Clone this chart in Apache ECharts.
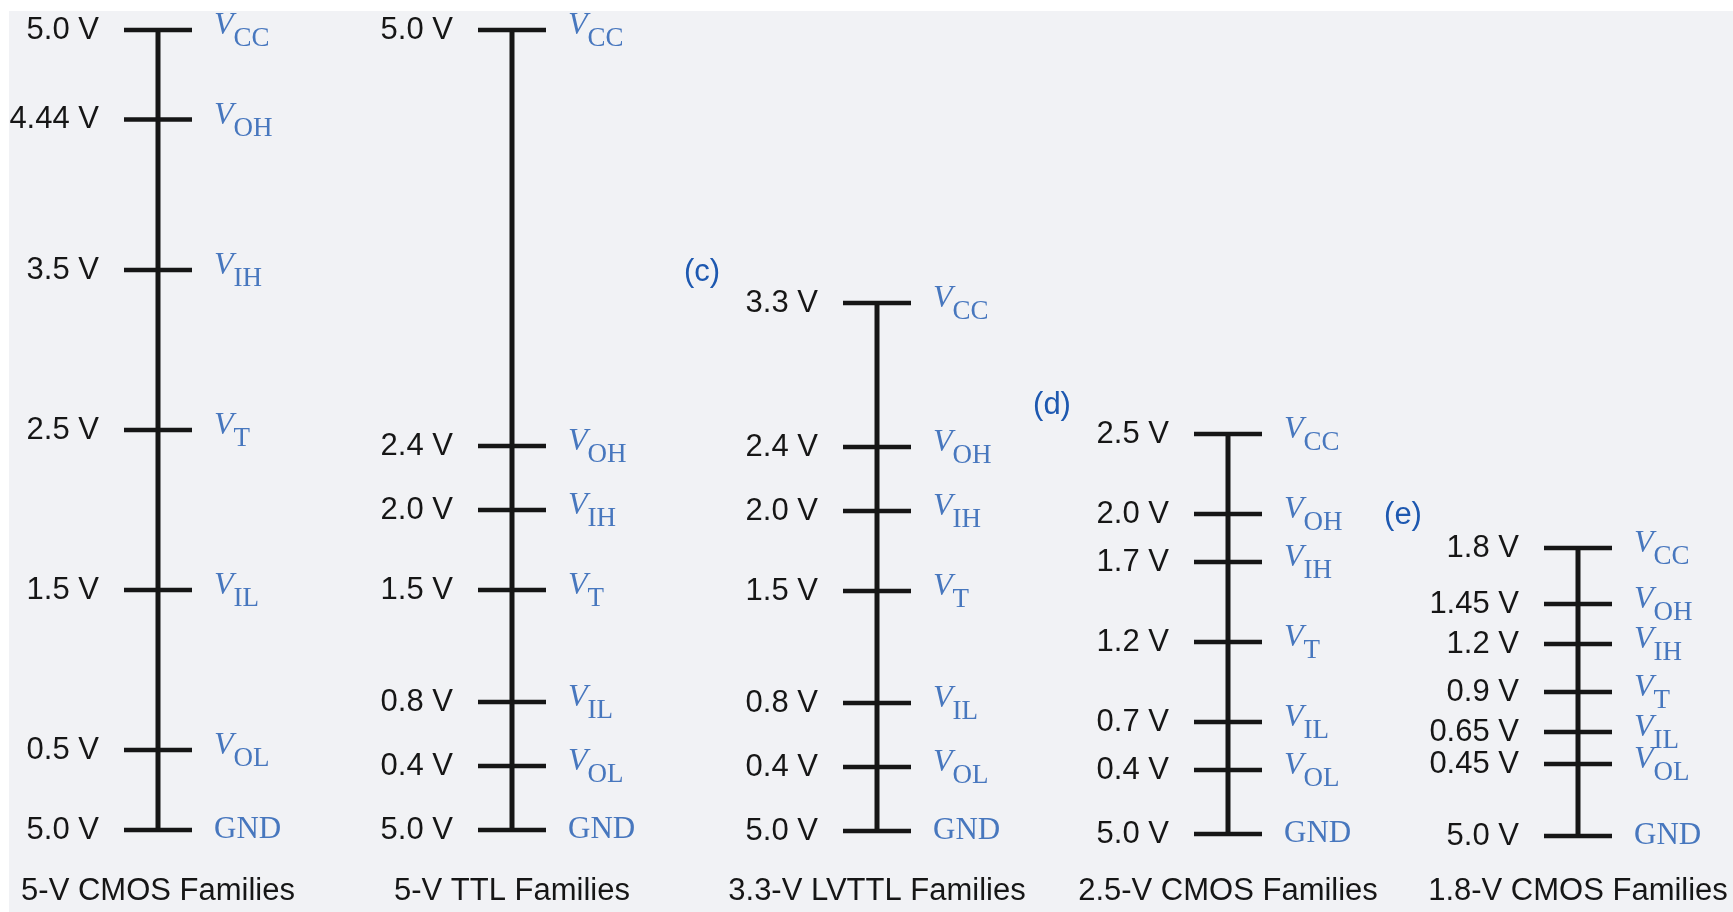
<!DOCTYPE html>
<html>
<head>
<meta charset="utf-8">
<script src="https://cdn.jsdelivr.net/npm/echarts@6/dist/echarts.min.js"></script>
<style>
  html, body { margin: 0; padding: 0; background: #ffffff; }
  #chart { width: 1733px; height: 912px; }
</style>
</head>
<body>
<div id="chart"></div>
<script>
// ---- data ----
const families = ['5-V CMOS Families', '5-V TTL Families', '3.3-V LVTTL Families', '2.5-V CMOS Families', '1.8-V CMOS Families'];
const panelTags = ['', '', '(c)', '(d)', '(e)'];
const levelNames = ['CC', 'OH', 'IH', 'T', 'IL', 'OL', 'GND'];

const cmos5Values   = [5.0, 4.44, 3.5, 2.5, 1.5, 0.5, 0];
const ttl5Values    = [5.0, 2.4, 2.0, 1.5, 0.8, 0.4, 0];
const lvttl33Values = [3.3, 2.4, 2.0, 1.5, 0.8, 0.4, 0];
const cmos25Values  = [2.5, 2.0, 1.7, 1.2, 0.7, 0.4, 0];
const cmos18Values  = [1.8, 1.45, 1.2, 0.9, 0.65, 0.45, 0];

const cmos5Labels   = ['5.0 V', '4.44 V', '3.5 V', '2.5 V', '1.5 V', '0.5 V', '5.0 V'];
const ttl5Labels    = ['5.0 V', '2.4 V', '2.0 V', '1.5 V', '0.8 V', '0.4 V', '5.0 V'];
const lvttl33Labels = ['3.3 V', '2.4 V', '2.0 V', '1.5 V', '0.8 V', '0.4 V', '5.0 V'];
const cmos25Labels  = ['2.5 V', '2.0 V', '1.7 V', '1.2 V', '0.7 V', '0.4 V', '5.0 V'];
const cmos18Labels  = ['1.8 V', '1.45 V', '1.2 V', '0.9 V', '0.65 V', '0.45 V', '5.0 V'];

const panelValues = [cmos5Values, ttl5Values, lvttl33Values, cmos25Values, cmos18Values];
const panelLabels = [cmos5Labels, ttl5Labels, lvttl33Labels, cmos25Labels, cmos18Labels];

// ---- layout / style ----
const BLUE = '#1d58b0';
const INK = '#161616';
const centersX = [158, 512, 877, 1228, 1578];
const zeroY = [832, 832, 833, 836, 838];
const PX_PER_V = 160.4;
const Y_MAX = 5;
const TITLE_TOP = 878;
const tagPos = [null, null, [702, 272], [1052, 405], [1403, 515]];

const grids = [], xAxes = [], yAxes = [], series = [], graphics = [];

graphics.push({ type: 'rect', left: 0, top: 0, shape: { width: 1733, height: 11 }, style: { fill: '#ffffff' }, z: -10, silent: true });
graphics.push({ type: 'rect', left: 0, top: 0, shape: { width: 9, height: 912 }, style: { fill: '#ffffff' }, z: -10, silent: true });

for (let i = 0; i < families.length; i++) {
  const h = PX_PER_V * Y_MAX;
  grids.push({ left: centersX[i] - 50, top: zeroY[i] - h, width: 100, height: h, containLabel: false });
  xAxes.push({
    gridIndex: i, type: 'value', min: -1, max: 1,
    axisLine: { show: false }, axisTick: { show: false }, axisLabel: { show: false }, splitLine: { show: false },
    name: families[i], nameLocation: 'middle', nameGap: TITLE_TOP - zeroY[i],
    nameTextStyle: { fontFamily: 'Liberation Sans', fontSize: 31, color: INK, lineHeight: 31 }
  });
  yAxes.push({
    gridIndex: i, type: 'value', min: 0, max: Y_MAX,
    axisLine: { show: false }, axisTick: { show: false }, axisLabel: { show: false }, splitLine: { show: false }
  });
  const vals = panelValues[i];
  const labs = panelLabels[i];
  const vcc = vals[0];
  series.push({
    type: 'line', xAxisIndex: i, yAxisIndex: i, silent: true, symbol: 'none', animation: false,
    data: [[0, 0], [0, vcc]],
    lineStyle: { color: INK, width: 5 }, z: 2
  });
  series.push({
    type: 'scatter', xAxisIndex: i, yAxisIndex: i, silent: true, animation: false,
    symbol: 'rect', symbolSize: [68, 4.5],
    data: vals.map(v => [0, v]),
    itemStyle: { color: INK, opacity: 1 },
    label: {
      show: true, position: 'left', distance: 25,
      formatter: p => labs[p.dataIndex],
      fontFamily: 'Liberation Sans', fontSize: 31, color: INK
    }, z: 3
  });
  series.push({
    type: 'scatter', xAxisIndex: i, yAxisIndex: i, silent: true, animation: false,
    symbol: 'rect', symbolSize: [68, 4.5],
    data: vals.map(v => [0, v]),
    itemStyle: { color: 'rgba(0,0,0,0)' },
    label: {
      show: true, position: 'right', distance: 22,
      formatter: p => {
        const n = levelNames[p.dataIndex];
        return n === 'GND' ? '{g|GND}' : '{v|V}{s|' + n + '}';
      },
      rich: {
        v: { fontFamily: 'Liberation Serif', fontStyle: 'italic', fontSize: 32, color: BLUE, padding: [0, 0, 8, 0] },
        s: { fontFamily: 'Liberation Serif', fontSize: 27, color: BLUE, padding: [18, 0, 0, 0] },
        g: { fontFamily: 'Liberation Serif', fontSize: 31, color: BLUE }
      }
    }, z: 3
  });
  if (panelTags[i]) {
    graphics.push({
      type: 'text', x: tagPos[i][0], y: tagPos[i][1], silent: true,
      style: { text: panelTags[i], fill: BLUE, font: '31px "Liberation Sans"', align: 'center', verticalAlign: 'middle', textAlign: 'center', textVerticalAlign: 'middle' }
    });
  }
}

const chart = echarts.init(document.getElementById('chart'), null, { renderer: 'canvas' });
chart.setOption({
  backgroundColor: '#f1f2f5',
  animation: false,
  grid: grids,
  xAxis: xAxes,
  yAxis: yAxes,
  series: series,
  graphic: graphics
});
</script>
</body>
</html>
